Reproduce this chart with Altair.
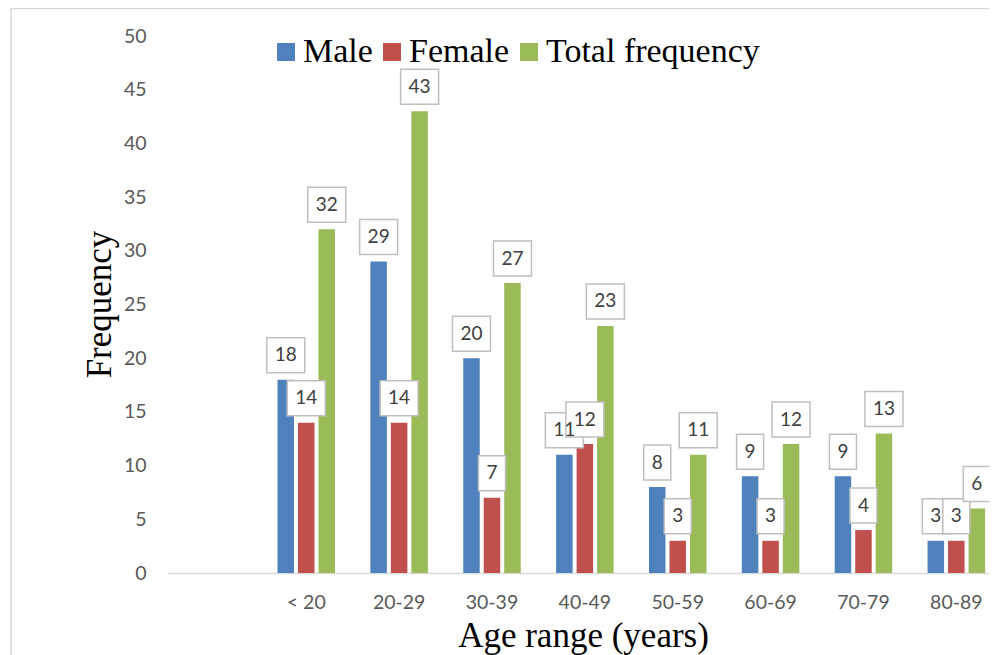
import altair as alt
import pandas as pd

categories = ["< 20", "20-29", "30-39", "40-49", "50-59", "60-69", "70-79", "80-89"]
male = [18, 29, 20, 11, 8, 9, 9, 3]
female = [14, 14, 7, 12, 3, 3, 4, 3]
total = [32, 43, 27, 23, 11, 12, 13, 6]
series = ["Male", "Female", "Total frequency"]
colors = ["#4F81BD", "#C0504D", "#9BBB59"]
y_ticks = [0, 5, 10, 15, 20, 25, 30, 35, 40, 45, 50]
x_domain = [""] + categories

rows = []
for i, c in enumerate(categories):
    for s, vals in zip(series, [male, female, total]):
        v = vals[i]
        rows.append({"age": c, "series": s, "value": v, "label": str(v), "digits": len(str(v))})
df = pd.DataFrame(rows)

LABEL_FONT = "Lato"
SERIF = "Liberation Serif"

x_enc = alt.X(
    "age:N",
    sort=x_domain,
    scale=alt.Scale(domain=x_domain, range=[0, 835.7], paddingInner=0.381, paddingOuter=0.19),
    axis=alt.Axis(
        domain=True, domainColor="#D9D9D9", domainWidth=1.5, ticks=False, grid=False,
        labelFont=LABEL_FONT, labelFontSize=19.5, labelColor="#595959", labelPadding=20, labelAngle=0,
        title="Age range (years)", titleFont=SERIF, titleFontSize=35, titleFontWeight="normal",
        titleColor="black", titleX=416, titleY=73, titleBaseline="alphabetic", titleAlign="center",
    ),
)
xo_enc = alt.XOffset("series:N", sort=series,
                     scale=alt.Scale(domain=series, paddingInner=0.195, paddingOuter=0))
y_enc = alt.Y(
    "value:Q",
    scale=alt.Scale(domain=[0, 50], nice=False),
    axis=alt.Axis(
        values=y_ticks, grid=False, domain=False, ticks=False,
        labelFont=LABEL_FONT, labelFontSize=19.5, labelColor="#595959", labelPadding=21,
        title="Frequency", titleFont=SERIF, titleFontSize=35, titleFontWeight="normal",
        titleColor="black", titleX=-68, titleY=268, titleAngle=-90,
        titleBaseline="middle", titleAlign="center",
    ),
)

base = alt.Chart(df)

frame = alt.Chart(alt.Data(values=[{"a": 1}])).mark_rect(
    fillOpacity=0, stroke="#D9D9D9", strokeWidth=1.5
).encode(x=alt.value(-156), x2=alt.value(900), y=alt.value(-27.5), y2=alt.value(700))

bars = base.mark_bar().encode(
    x=x_enc,
    xOffset=xo_enc,
    y=y_enc,
    color=alt.Color(
        "series:N",
        scale=alt.Scale(domain=series, range=colors),
        legend=alt.Legend(
            orient="none", legendX=102, legendY=-1, direction="horizontal", title=None,
            symbolType="square", symbolSize=324, symbolStrokeWidth=0, symbolOpacity=1,
            labelFont=SERIF, labelFontSize=34, labelColor="black", labelOffset=0,
            labelLimit=0, columnPadding=2, padding=0,
        ),
    ),
)

box_layers = []
text_layers = []
for s in series:
    for d, w in [(1, 27), (2, 38)]:
        box_layers.append(
            base.transform_filter(f"datum.series == '{s}' && datum.digits == {d}")
            .mark_bar(width=w, fill="white", stroke="#BFBFBF", strokeWidth=1.5,
                      yOffset=-7, y2Offset=-42)
            .encode(x=x_enc, xOffset=xo_enc, y=y_enc, y2=alt.Y2("value:Q"))
        )
    text_layers.append(
        base.transform_filter(f"datum.series == '{s}'")
        .mark_text(dy=-24.5, baseline="middle", align="center", font=LABEL_FONT,
                   fontSize=19, color="#404040")
        .encode(x=x_enc, xOffset=xo_enc, y=y_enc, text="label:N")
    )

chart = alt.layer(frame, bars, *box_layers, *text_layers).properties(
    width=822, height=537,
    padding={"left": 159, "top": 28, "right": 0, "bottom": 84},
    autosize=alt.AutoSizeParams(type="none"),
).configure_view(stroke=None)

chart.save("out.html", embed_options={"renderer": "svg", "actions": False})
